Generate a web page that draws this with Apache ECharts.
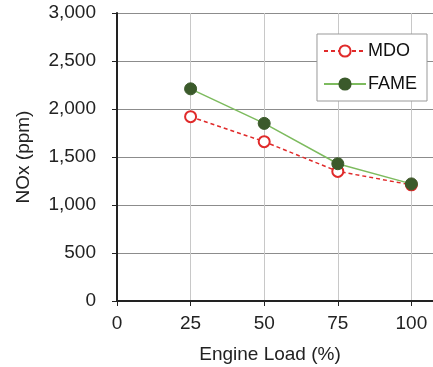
<!DOCTYPE html>
<html>
<head>
<meta charset="utf-8">
<script src="https://cdn.jsdelivr.net/npm/echarts@6/dist/echarts.min.js"></script>
<style>
  html, body { margin: 0; padding: 0; background: #fff; }
  #main { width: 433px; height: 367px; }
</style>
</head>
<body>
<div id="main"></div>
<script>
// engine load (%) and NOx readings
var loads = [25, 50, 75, 100];
var mdo = [1920, 1660, 1350, 1210];
var fame = [2210, 1850, 1430, 1220];

function pairs(vals) {
  return loads.map(function (x, i) { return [x, vals[i]]; });
}

var chart = echarts.init(document.getElementById('main'));
var font = 'Liberation Sans, Arial, sans-serif';

var option = {
  animation: false,
  backgroundColor: '#fff',
  grid: {
    left: 117,
    top: 13,
    bottom: 66,
    right: -52,
    containLabel: false,
    outerBoundsMode: 'none'
  },
  legend: {
    orient: 'vertical',
    right: 6,
    top: 34,
    padding: [8, 10, 8, 6],
    itemWidth: 42,
    itemHeight: 14,
    itemGap: 15,
    backgroundColor: '#fff',
    borderColor: '#999',
    borderWidth: 1,
    textStyle: { fontFamily: font, fontSize: 18, color: '#111', padding: [0, 0, 0, -3] },
    data: ['MDO', 'FAME']
  },
  xAxis: {
    type: 'value',
    min: 0,
    max: 125,
    interval: 25,
    name: 'Engine Load (%)',
    nameLocation: 'middle',
    nameGap: 44,
    // the axis runs past the right edge, so pull the title back to the visible centre
    nameTextStyle: { fontFamily: font, fontSize: 19, color: '#222', padding: [0, 62, 0, 0] },
    axisLine: { lineStyle: { color: '#222', width: 2 } },
    axisTick: { show: true, length: 5, lineStyle: { color: '#222', width: 1 } },
    axisLabel: { fontFamily: font, fontSize: 19, color: '#222', margin: 13 },
    splitLine: { show: true, lineStyle: { color: '#c8c8c8', width: 1 } }
  },
  yAxis: {
    type: 'value',
    min: 0,
    max: 3000,
    interval: 500,
    name: 'NOx (ppm)',
    nameLocation: 'middle',
    nameGap: 84,
    nameTextStyle: { fontFamily: font, fontSize: 19, color: '#222' },
    axisLine: { show: true, lineStyle: { color: '#222', width: 2 } },
    axisTick: { show: true, length: 5, lineStyle: { color: '#222', width: 1 } },
    axisLabel: {
      fontFamily: font, fontSize: 19, color: '#222', margin: 21,
      formatter: function (v) { return v.toLocaleString('en-US'); }
    },
    splitLine: { show: true, lineStyle: { color: '#8c8c8c', width: 1 } }
  },
  series: [
    {
      name: 'MDO',
      type: 'line',
      data: pairs(mdo),
      symbol: 'circle',
      symbolSize: 11,
      lineStyle: { color: '#e02a2a', width: 1.5, type: [4, 3] },
      itemStyle: { color: '#fff', borderColor: '#e02a2a', borderWidth: 2 },
      z: 2
    },
    {
      name: 'FAME',
      type: 'line',
      data: pairs(fame),
      symbol: 'circle',
      symbolSize: 12,
      lineStyle: { color: '#7dbb5e', width: 1.5 },
      itemStyle: { color: '#3b5a2b', borderColor: '#3b5a2b', borderWidth: 1 },
      z: 3
    }
  ]
};

chart.setOption(option);
</script>
</body>
</html>
